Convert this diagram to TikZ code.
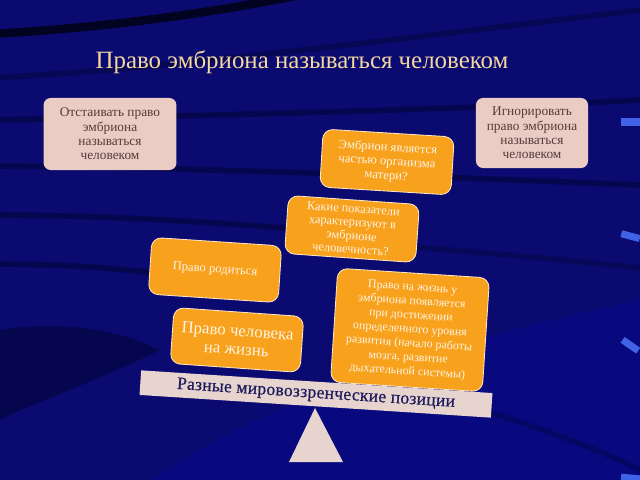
\documentclass[tikz,border=0pt]{standalone}
\usepackage{fontspec}
\setmainfont{Liberation Serif}
\usepackage{color}
\usepackage{tikz}
\definecolor{bgblue}{HTML}{0A0A70}
\definecolor{orng}{HTML}{F8A11C}
\definecolor{rose}{HTML}{EBCCC4}
\definecolor{rosetext}{HTML}{533C3C}
\definecolor{gold}{HTML}{F2D7A2}
\definecolor{plank}{HTML}{E8D4CF}
\definecolor{navytext}{HTML}{1E1B5C}
\definecolor{streak}{HTML}{3F62E6}

\begin{document}
\begin{tikzpicture}[x=0.025cm,y=-0.025cm,
    rosebox/.style={rectangle,rounded corners=5pt,fill=rose,text=rosetext,align=center,
        font=\fontsize{9.5}{10.2}\selectfont},
    orbox/.style={rectangle,rounded corners=7pt,fill=orng,draw=white!75!orng,line width=0.6pt,
        text=white!88!orng,align=center,font=\fontsize{9}{10}\selectfont},
    swoosh/.style={black,line width=4pt,opacity=0.3,line cap=round}]
    \useasboundingbox (0,0) rectangle (640,480);
    \clip (0,0) rectangle (640,480);
    \fill[bgblue] (0,0) rectangle (640,480);
    \fill[blue!60!bgblue,opacity=0.18] (150,480) .. controls (300,380) and (500,330) .. (640,300) -- (640,480) -- cycle;
    \draw[swoosh,line width=6pt,opacity=0.7] (-10,34) .. controls (100,28) and (200,15) .. (300,-5);
    \draw[swoosh,opacity=0.25] (-10,78) .. controls (150,70) and (350,45) .. (640,10);
    \draw[swoosh] (-10,120) .. controls (150,117) and (450,110) .. (640,100);
    \draw[swoosh] (-10,166) .. controls (150,167) and (400,175) .. (640,185);
    \draw[swoosh] (-10,215) .. controls (100,215) and (220,222) .. (330,232);
    \draw[swoosh] (-10,264) .. controls (60,264) and (120,268) .. (170,275);
    \draw[swoosh,opacity=0.2] (330,240) .. controls (450,250) and (550,258) .. (640,268);
    \draw[swoosh,opacity=0.2] (430,395) .. controls (520,420) and (590,445) .. (640,470);
    \fill[black,opacity=0.3] (0,330) .. controls (60,320) and (120,330) .. (160,350)
        .. controls (100,380) and (40,400) .. (0,420) -- cycle;
    \foreach \y/\a in {122/0,236/-15,345/-35,478/-5}
        \draw[streak,line width=5pt,rotate around={\a:(630,\y)}] (621,\y) -- (640,\y);

    \node (title) at (302,62) [text=gold,font=\fontsize{17.7}{20}\selectfont] {Право эмбриона называться человеком};

    \node[rosebox,minimum width=3.32cm,minimum height=1.8cm] (defend) at (110,134)
        {Отстаивать право\\эмбриона\\называться\\человеком};
    \node[rosebox,minimum width=2.8cm,minimum height=1.75cm] (ignore) at (532,133)
        {Игнорировать\\право эмбриона\\называться\\человеком};

    \node[orbox,minimum width=3.28cm,minimum height=1.45cm,rotate=-3.5] (part) at (387,162)
        {Эмбрион является\\частью организма\\матери?};
    \node[orbox,minimum width=3.28cm,minimum height=1.45cm,rotate=-4,
        font=\fontsize{8.8}{9.6}\selectfont] (signs) at (352,229)
        {Какие показатели\\характеризуют в\\эмбрионе\\человечность?};
    \node[orbox,minimum width=3.25cm,minimum height=1.42cm,rotate=-3.8] (born) at (215,270)
        {Право родиться};
    \node[orbox,minimum width=3.25cm,minimum height=1.4cm,rotate=-4,
        font=\fontsize{12}{13}\selectfont] (human) at (237,340)
        {Право человека\\на жизнь};
    \node[orbox,minimum width=3.8cm,minimum height=2.85cm,rotate=-3.7,
        font=\fontsize{8.5}{10}\selectfont] (life) at (410,330)
        {Право на жизнь у\\эмбриона появляется\\при достижении\\определенного уровня\\развития (начало работы\\мозга, развитие\\дыхательной системы)};

    \node[fill=plank,text=navytext,minimum width=8.8cm,minimum height=0.6cm,rotate=-3.7,
        font=\fontsize{12.5}{13}\selectfont\addfontfeature{LetterSpace=1.5,FakeBold=0.6}] (views) at (316,394)
        {Разные мировоззренческие позиции};
    \fill[plank] (289,462) -- (343,462) -- (315,408) -- cycle;
\end{tikzpicture}
\end{document}
